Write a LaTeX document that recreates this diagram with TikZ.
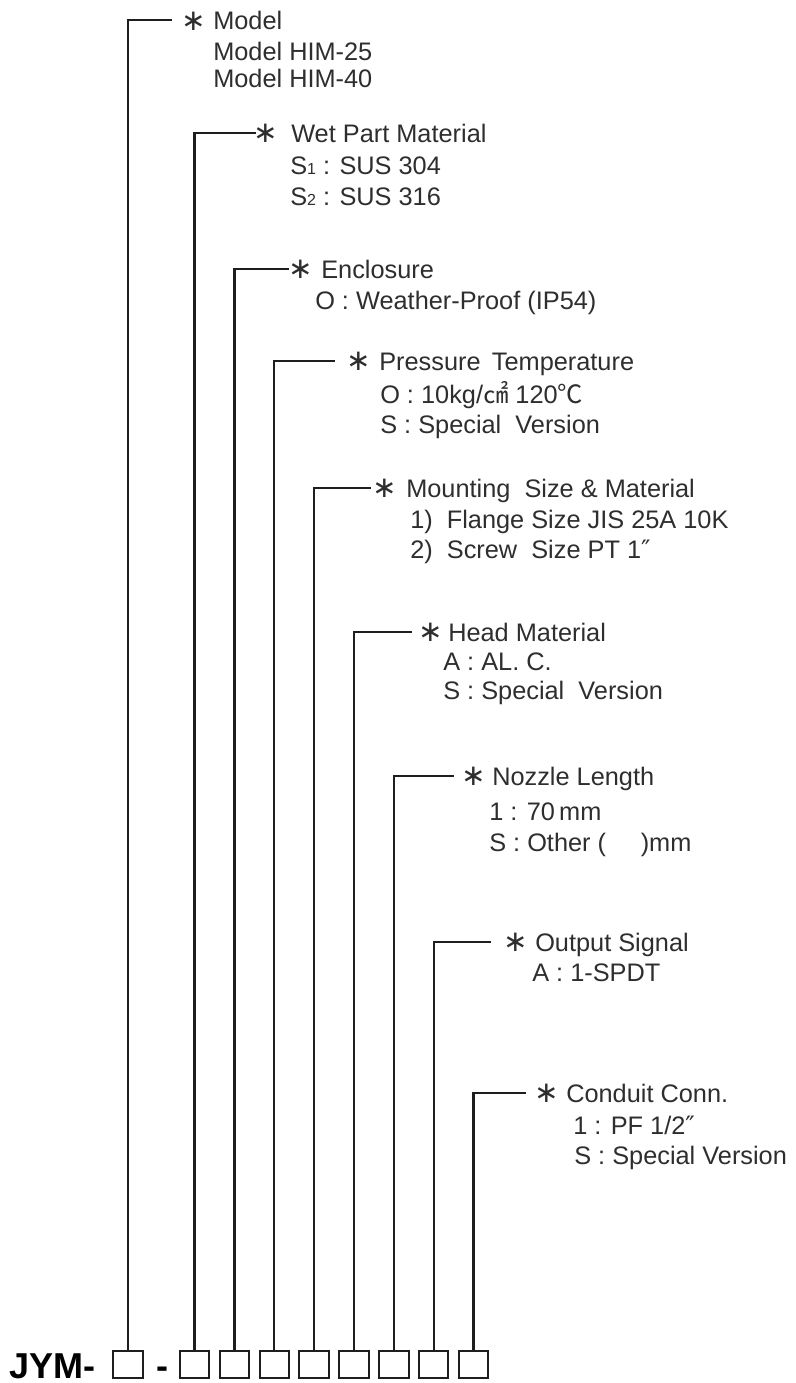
\documentclass[tikz,border=0pt]{standalone}
\usepackage{fontspec}
\setmainfont{Liberation Sans}
\newfontfamily\cjkfont{Noto Sans CJK KR}
\newfontfamily\symfont{DejaVu Sans}
\usepackage{xcolor}
\definecolor{SPline}{HTML}{1E1E1E}
\definecolor{SPtext}{HTML}{2E2E2E}
\usepackage{tikz}
\usetikzlibrary{positioning}

\begin{document}
\begin{tikzpicture}[
  x=0.75pt, y=-0.75pt,
  slot/.style={
    draw=SPline, line width=1.5pt, minimum width=22pt,
    minimum height=20pt, inner sep=0pt, outer sep=0pt
  },
  lead/.style={draw=SPline, line width=1.7pt},
  asterisk/.style={inner sep=0pt, font=\symfont\fontsize{22}{22}\selectfont, text=SPtext},
  head/.style={anchor=west, inner sep=0pt, text height=13.6pt, text depth=0pt,
    font=\fontsize{19}{22}\selectfont, text=SPtext},
  item/.style={anchor=base west, inner sep=0pt,
    font=\fontsize{19}{22}\selectfont, text=SPtext},
  code/.style={inner sep=0pt, font=\fontsize{27}{27}\selectfont\bfseries, text=black},
]
\useasboundingbox (0,0) rectangle (795,1383);

% Order code — JYM-[]-[][][][][][][][]
\node[code, anchor=base west] (prefix) at (9,1378) {JYM-};
\node[slot] (b1) at (128,1364.5) {};
\node[code, anchor=base] (dash) at (162,1378) {-};
\node[slot] (b2) at (194.5,1364.5) {};
\node[slot, right=7.9pt of b2] (b3) {};
\node[slot, right=7.9pt of b3] (b4) {};
\node[slot, right=7.9pt of b4] (b5) {};
\node[slot, right=7.9pt of b5] (b6) {};
\node[slot, right=7.9pt of b6] (b7) {};
\node[slot, right=7.9pt of b7] (b8) {};
\node[slot, right=7.9pt of b8] (b9) {};

% Model
\coordinate (h1) at (172,20);
\node[asterisk] (a1) at (194,21) {∗};
\node[head] (t1) at (213,20) {Model};
\node[item] (d1a) at (213,61) {Model HIM-25};
\node[item] (d1b) at (213,88) {Model HIM-40};

% Wet Part Material
\coordinate (h2) at (256,133);
\node[asterisk] (a2) at (266,133) {∗};
\node[head] (t2) at (291,133) {Wet Part Material};
\node[item] (d2a) at (290,175) {S{\fontsize{12}{12}\selectfont 1} : SUS 304};
\node[item] (d2b) at (290,206) {S{\fontsize{12}{12}\selectfont 2} : SUS 316};

% Enclosure
\coordinate (h3) at (289,269);
\node[asterisk] (a3) at (301,269) {∗};
\node[head] (t3) at (321,269) {Enclosure};
\node[item] (d3a) at (315,310) {O : Weather-Proof (IP54)};

% Pressure Temperature
\coordinate (h4) at (335,361);
\node[asterisk] (a4) at (359,361) {∗};
\node[head] (t4) at (379,361) {Pressure\ \,Temperature};
\node[item] (d4a) at (380,403) {O : 10kg/{\cjkfont ㎠} 120{\cjkfont ℃}};
\node[item] (d4b) at (380,433) {S : Special~ Version};

% Mounting Size & Material
\coordinate (h5) at (371,488);
\node[asterisk] (a5) at (385,488) {∗};
\node[head] (t5) at (406,488) {Mounting~ Size \& Material};
\node[item] (d5a) at (410,528) {1)~ Flange Size JIS 25A 10K};
\node[item] (d5b) at (410,558) {2)~ Screw~ Size PT 1{\symfont ″}};

% Head Material
\coordinate (h6) at (412,632);
\node[asterisk] (a6) at (431,632) {∗};
\node[head] (t6) at (448,632) {Head Material};
\node[item] (d6a) at (443,670) {A : AL. C.};
\node[item] (d6b) at (443,699) {S : Special~ Version};

% Nozzle Length
\coordinate (h7) at (454,776);
\node[asterisk] (a7) at (474,776) {∗};
\node[head] (t7) at (492,776) {Nozzle Length};
\node[item] (d7a) at (489,820) {1 : 70\,mm};
\node[item] (d7b) at (489,851) {S : Other (\hspace{26pt})mm};

% Output Signal
\coordinate (h8) at (491,942);
\node[asterisk] (a8) at (516,942) {∗};
\node[head] (t8) at (535,942) {Output Signal};
\node[item] (d8a) at (532,981) {A : 1-SPDT};

% Conduit Conn.
\coordinate (h9) at (526,1093);
\node[asterisk] (a9) at (547,1093) {∗};
\node[head] (t9) at (566,1093) {Conduit Conn.};
\node[item] (d9a) at (573,1134) {1 : PF 1/2{\symfont ″}};
\node[item] (d9b) at (574,1164) {S : Special Version};

% Leaders
\draw[lead] (b1.north) |- (h1);
\draw[lead] (b2.north) |- (h2);
\draw[lead] (b3.north) |- (h3);
\draw[lead] (b4.north) |- (h4);
\draw[lead] (b5.north) |- (h5);
\draw[lead] (b6.north) |- (h6);
\draw[lead] (b7.north) |- (h7);
\draw[lead] (b8.north) |- (h8);
\draw[lead] (b9.north) |- (h9);

\end{tikzpicture}
\end{document}
